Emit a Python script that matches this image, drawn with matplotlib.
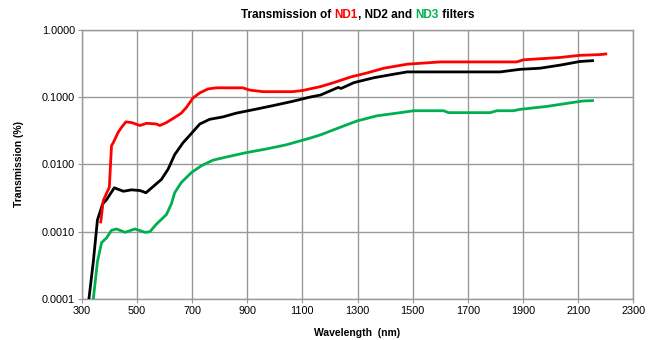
import matplotlib
matplotlib.use('Agg')
import matplotlib.pyplot as plt
from matplotlib.ticker import FixedLocator, NullLocator, FixedFormatter

plt.rcParams['font.family'] = ['Liberation Sans', 'DejaVu Sans']

# ND1 (red)
nd1_wl = [369, 378, 400, 408, 414, 432, 445, 460, 481, 511, 535, 571, 583, 607, 637,
          661, 680, 704, 728, 758, 788, 884, 908, 957, 1065, 1101, 1166, 1214, 1275,
          1335, 1395, 1480, 1600, 1877, 1901, 2034, 2106, 2178, 2200]
nd1_tr = [0.0014, 0.0029, 0.0046, 0.019, 0.021, 0.030, 0.036, 0.043, 0.042, 0.038,
          0.041, 0.040, 0.038, 0.042, 0.050, 0.058, 0.071, 0.098, 0.116, 0.133, 0.138,
          0.138, 0.128, 0.121, 0.121, 0.126, 0.144, 0.165, 0.20, 0.23, 0.27, 0.31,
          0.335, 0.335, 0.36, 0.39, 0.42, 0.43, 0.44]

# ND2 (black)
nd2_wl = [326, 342, 357, 376, 390, 418, 451, 481, 511, 533, 559, 589, 613, 637, 667,
          698, 728, 764, 812, 860, 920, 993, 1065, 1125, 1166, 1230, 1240, 1287, 1359,
          1431, 1480, 1817, 1889, 1961, 2034, 2106, 2152]
nd2_tr = [0.0001, 0.00036, 0.0015, 0.0026, 0.0030, 0.0045, 0.0040, 0.0042, 0.0041,
          0.0038, 0.0047, 0.0060, 0.0085, 0.014, 0.021, 0.029, 0.040, 0.047, 0.051,
          0.058, 0.065, 0.075, 0.087, 0.10, 0.108, 0.14, 0.135, 0.165, 0.195, 0.22,
          0.238, 0.238, 0.26, 0.27, 0.30, 0.34, 0.35]

# ND3 (green)
nd3_wl = [342, 357, 372, 390, 408, 426, 457, 493, 529, 547, 571, 607, 625, 637, 661,
          698, 734, 776, 824, 896, 969, 1041, 1125, 1166, 1239, 1299, 1371, 1455, 1504,
          1612, 1630, 1781, 1805, 1865, 1889, 1986, 2058, 2118, 2152]
nd3_tr = [0.0001, 0.00036, 0.00069, 0.00081, 0.00105, 0.0011, 0.00098, 0.0011,
          0.00098, 0.001, 0.0013, 0.0018, 0.0026, 0.0038, 0.0054, 0.0076, 0.0096,
          0.0116, 0.0129, 0.015, 0.017, 0.0196, 0.0245, 0.0276, 0.036, 0.0445, 0.053,
          0.059, 0.063, 0.063, 0.059, 0.059, 0.063, 0.063, 0.066, 0.073, 0.081, 0.088,
          0.089]

xticks = list(range(300, 2301, 200))
yticks = [0.0001, 0.001, 0.01, 0.1, 1.0]
ylabels = ['0.0001', '0.0010', '0.0100', '0.1000', '1.0000']

grid_c = '#999999'

fig = plt.figure(figsize=(6.57, 3.4), dpi=100)
ax = fig.add_axes([0.1244, 0.1206, 0.8396, 0.7912])

ax.plot(nd2_wl, nd2_tr, color='black', lw=2, zorder=3)
ax.plot(nd3_wl, nd3_tr, color='#00B050', lw=2, zorder=3)
ax.plot(nd1_wl, nd1_tr, color='#FF0000', lw=2, zorder=4)

ax.set_yscale('log')
ax.set_xlim(300, 2300)
ax.set_ylim(0.0001, 1.0)
ax.xaxis.set_major_locator(FixedLocator(xticks))
ax.yaxis.set_major_locator(FixedLocator(yticks))
ax.yaxis.set_major_formatter(FixedFormatter(ylabels))
ax.yaxis.set_minor_locator(NullLocator())
ax.grid(True, color=grid_c, lw=1.0)
ax.set_axisbelow(True)
for s in ax.spines.values():
    s.set_color(grid_c)
    s.set_linewidth(1.0)
ax.tick_params(axis='both', length=3, color=grid_c, labelsize=7.8, pad=2)

ax.set_xlabel('Wavelength  (nm)', fontsize=7.5, fontweight='bold', labelpad=9)
ax.set_ylabel('Transmission (%)', fontsize=7.5, fontweight='bold', labelpad=13)

# multi-coloured title
parts = [('Transmission of ', 'black'), ('ND1', '#FF0000'), (', ND2 and ', 'black'),
         ('ND3', '#00B050'), (' filters', 'black')]
fig.canvas.draw()
r = fig.canvas.get_renderer()
texts = []
for txt, c in parts:
    t = fig.text(0, 0.955, txt, color=c, fontsize=8.5, fontweight='bold',
                 ha='left', va='center')
    texts.append(t)
widths = [t.get_window_extent(r).width for t in texts]
total = sum(widths)
cx = (ax.get_position().x0 + ax.get_position().x1) / 2 * fig.bbox.width
x = cx - total / 2
for t, w in zip(texts, widths):
    t.set_x(x / fig.bbox.width)
    x += w

fig.savefig('out.png', dpi=100)
